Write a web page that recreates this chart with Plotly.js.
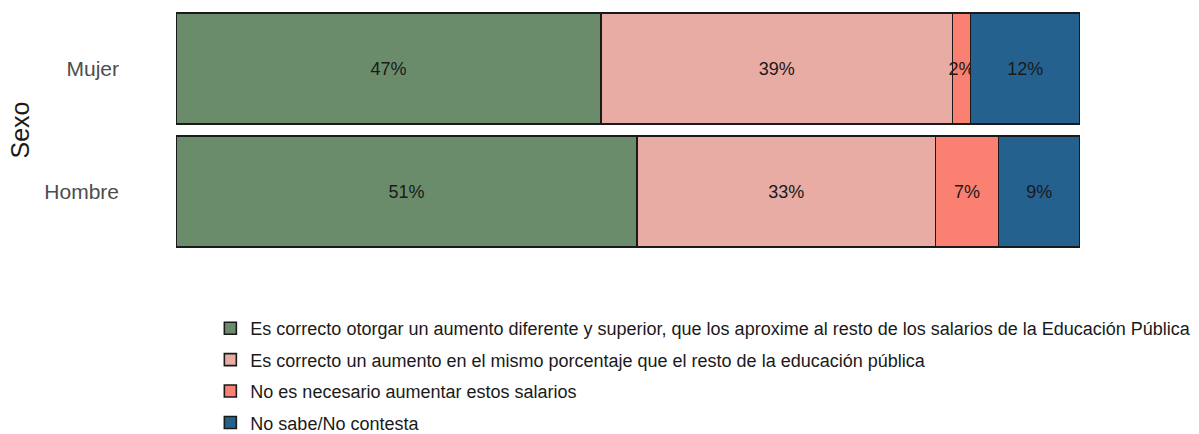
<!DOCTYPE html>
<html>
<head>
<meta charset="utf-8">
<script src="https://cdn.plot.ly/plotly-3.0.1.min.js"></script>
<style>
  html, body { margin: 0; padding: 0; background: #fff; }
  #chart { width: 1199px; height: 434px; }
</style>
</head>
<body>
<div id="chart"></div>
<script>
var groups = ["Hombre", "Mujer"];

var answers = [
  "Es correcto otorgar un aumento diferente y superior, que los aproxime al resto de los salarios de la Educación Pública",
  "Es correcto un aumento en el mismo porcentaje que el resto de la educación pública",
  "No es necesario aumentar estos salarios",
  "No sabe/No contesta"
];

// percent per answer, order: Hombre, Mujer
var superior = [51.0, 47.0];
var mismo = [33.0, 38.9];
var noNecesario = [7.0, 2.0];
var noSabe = [9.0, 12.1];

var colors = ["#6b8c6b", "#e8aca5", "#fa8072", "#24618f"];

var series = [superior, mismo, noNecesario, noSabe];

var data = series.map(function (vals, i) {
  return {
    type: "bar",
    orientation: "h",
    x: vals,
    y: groups,
    name: answers[i],
    legendgroup: "g" + i,
    text: vals.map(v => Math.round(v) + "%"),
    texttemplate: "%{text}",
    textposition: "inside",
    insidetextanchor: "middle",
    constraintext: "none",
    textangle: 0,
    textfont: {family: "Liberation Sans, Arial, sans-serif", size: 18, color: "#1a1a1a"},
    marker: {color: colors[i], line: {color: "#1a1a1a", width: 1.6}},
    hoverinfo: "skip"
  };
});

var layout = {
  width: 1199,
  height: 434,
  margin: {l: 176, r: 119, t: 7, b: 181, autoexpand: false},
  barmode: "stack",
  bargap: 0.1,
  paper_bgcolor: "#fff",
  plot_bgcolor: "#fff",
  font: {family: "Liberation Sans, Arial, sans-serif", color: "#4d4d4d"},
  xaxis: {
    range: [0, 100],
    showticklabels: false,
    showgrid: false,
    zeroline: false,
    showline: false,
    ticks: ""
  },
  yaxis: {
    showgrid: false,
    zeroline: false,
    showline: false,
    ticks: "",
    ticklabelstandoff: 56,
    tickfont: {size: 21, color: "#4d4d4d"},
    title: {text: "Sexo", font: {size: 25, color: "#1a1a1a"}, standoff: 7}
  },
  showlegend: true,
  legend: {
    orientation: "v",
    traceorder: "grouped",
    tracegroupgap: 5,
    x: 0.038,
    xanchor: "left",
    y: -0.232,
    yanchor: "top",
    font: {size: 18, color: "#1a1a1a"},
    bgcolor: "rgba(0,0,0,0)"
  }
};

Plotly.newPlot("chart", data, layout, {displayModeBar: false, staticPlot: true});
</script>
</body>
</html>
